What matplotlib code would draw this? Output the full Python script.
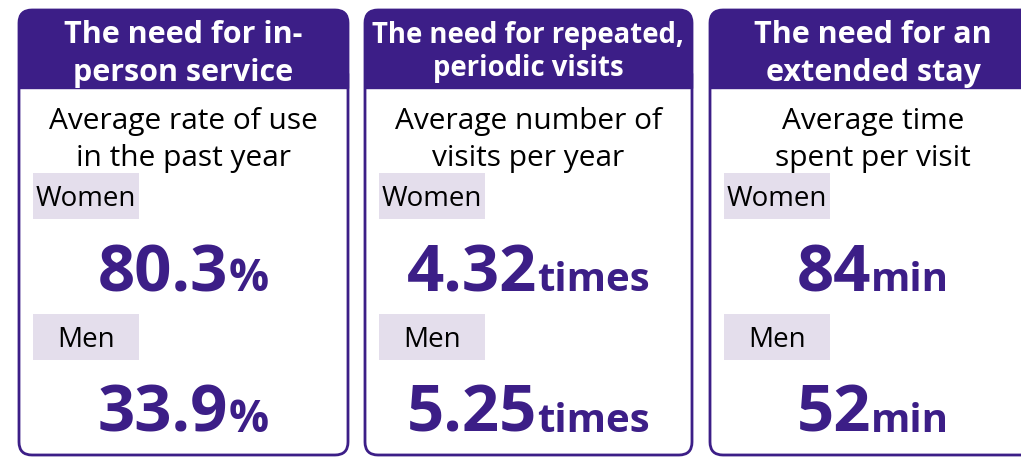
import matplotlib
matplotlib.use("Agg")
import matplotlib.pyplot as plt
from matplotlib.patches import FancyBboxPatch, Rectangle

# chart content
titles = [["The need for in-", "person service"],
          ["The need for repeated,", "periodic visits"],
          ["The need for an", "extended stay"]]
subtitles = [["Average rate of use", "in the past year"],
             ["Average number of", "visits per year"],
             ["Average time", "spent per visit"]]
groups = ["Women", "Men"]
women_vals = ["80.3", "4.32", "84"]
men_vals = ["33.9", "5.25", "52"]
units = ["%", "times", "min"]

PURPLE = "#3C1E87"
LAV = "#E4DEEC"
FONT = "Open Sans"

W, H = 1021, 457
fig = plt.figure(figsize=(W / 100, H / 100), dpi=100)
ax = fig.add_axes([0, 0, 1, 1])
ax.set_xlim(0, W)
ax.set_ylim(H, 0)
ax.axis("off")

panel_left = [19, 365, 710]
panel_right = [348, 692, 1045]
panel_center = [183, 528, 873]
top, bottom, head_bot, rad = 10, 455, 88, 13
title_size = [22, 19.8, 22]
title_base = [[43, 81], [43, 76], [43, 81]]
unit_size = [32, 29, 29]

renderer = fig.canvas.get_renderer()


def value_text(xc, yb, num, unit, usize):
    # big number + smaller unit sharing one baseline, centred on xc
    t1 = ax.text(0, yb, num, fontsize=47, fontweight="bold", color=PURPLE,
                 family=FONT, ha="left", va="baseline")
    t2 = ax.text(0, yb, unit, fontsize=usize, fontweight="bold", color=PURPLE,
                 family=FONT, ha="left", va="baseline")
    w1 = t1.get_window_extent(renderer).width
    w2 = t2.get_window_extent(renderer).width
    x0 = xc - (w1 + w2) / 2
    t1.set_x(x0)
    t2.set_x(x0 + w1)


for i in range(3):
    l, r = panel_left[i], panel_right[i]
    xc = panel_center[i]
    # outline
    ax.add_patch(FancyBboxPatch((l, top), r - l, bottom - top,
                                boxstyle="round,pad=0,rounding_size=%d" % rad,
                                fc="white", ec=PURPLE, lw=2, zorder=1))
    # header band: rounded top, square bottom
    ax.add_patch(FancyBboxPatch((l, top), r - l, head_bot - top,
                                boxstyle="round,pad=0,rounding_size=%d" % rad,
                                fc=PURPLE, ec=PURPLE, lw=1, zorder=2))
    ax.add_patch(Rectangle((l, head_bot - rad - 2), r - l, rad + 2,
                           fc=PURPLE, ec=PURPLE, lw=1, zorder=2))
    for j, line in enumerate(titles[i]):
        ax.text(xc, title_base[i][j], line, fontsize=title_size[i], fontweight="bold",
                color="white", family=FONT, ha="center", va="baseline", zorder=3)
    for j, line in enumerate(subtitles[i]):
        ax.text(xc, 129 + 37 * j, line, fontsize=21.5, color="black",
                family=FONT, ha="center", va="baseline", zorder=3)
    # group labels
    bx = l + 14
    for g, yb in zip(groups, [173, 314]):
        ax.add_patch(Rectangle((bx, yb), 106, 46, fc=LAV, ec="none", zorder=2))
        ax.text(bx + 53, yb + 33, g, fontsize=20, color="black", family=FONT,
                ha="center", va="baseline", zorder=3)
    value_text(xc, 291, women_vals[i], units[i], unit_size[i])
    value_text(xc, 432, men_vals[i], units[i], unit_size[i])

fig.savefig("out.png", dpi=100)
